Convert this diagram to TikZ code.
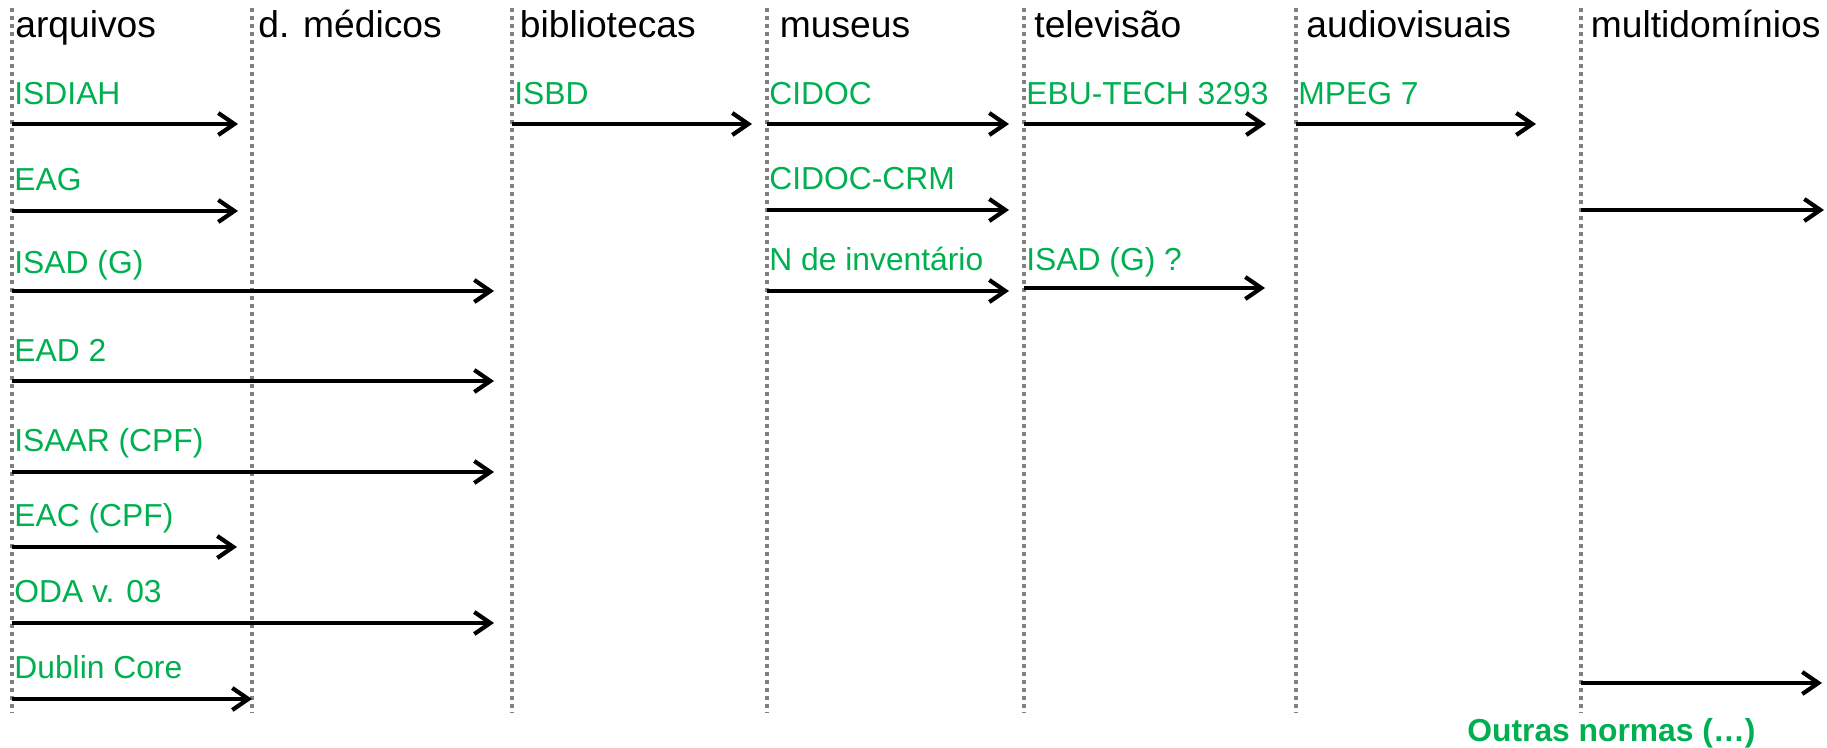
\documentclass[tikz,border=0pt]{standalone}
\usepackage{fontspec}
\setmainfont{Liberation Sans}
\usetikzlibrary{arrows.meta}
\definecolor{lblgreen}{RGB}{0,176,80}
\definecolor{sepgray}{RGB}{128,128,128}
\begin{document}
\begin{tikzpicture}[x=0.5pt,y=-0.5pt,
  sep/.style={draw=sepgray, line width=1.8pt, dash pattern=on 2pt off 2pt},
  arr/.style={draw=black, line width=2.1pt, -{Straight Barb[length=8pt,width=11pt]}},
  head/.style={anchor=base west, inner sep=0pt, font=\fontsize{18.6pt}{20pt}\selectfont},
  lbl/.style={anchor=base west, inner sep=0pt, text=lblgreen, font=\fontsize{15.9pt}{17pt}\selectfont},
  lblb/.style={lbl, font=\fontsize{15.9pt}{17pt}\selectfont\bfseries},
]
\useasboundingbox (0,0) rectangle (1827,748);

% column separators
\foreach \i/\x in {1/12,2/252,3/512,4/767,5/1024,6/1296,7/1581}{
  \coordinate (s\i t) at (\x,8);
  \coordinate (s\i b) at (\x,713);
  \draw[sep] (s\i t) -- (s\i b);
}

% headers
\node[head] (h1) at (15,38) {arquivos};
\node[head] (h2) at (258,38) {d. médicos};
\node[head] (h3) at (519.5,38) {bibliotecas};
\node[head] (h4) at (779.5,38) {museus};
\node[head] (h5) at (1034,38) {televisão};
\node[head] (h6) at (1306,38) {audiovisuais};
\node[head] (h7) at (1590.5,38) {multidomínios};

% arquivos column
\node[lbl] (isdiah) at (14,105) {ISDIAH};
\coordinate (isdiahS) at (12,124); \coordinate (isdiahE) at (238,124);
\draw[arr] (isdiahS) -- (isdiahE);

\node[lbl] (eag) at (14,191) {EAG};
\coordinate (eagS) at (12,211); \coordinate (eagE) at (238,211);
\draw[arr] (eagS) -- (eagE);

\node[lbl] (isadg) at (14,274) {ISAD (G)};
\coordinate (isadgS) at (12,291); \coordinate (isadgE) at (494,291);
\draw[arr] (isadgS) -- (isadgE);

\node[lbl] (ead) at (14,362) {EAD 2};
\coordinate (eadS) at (12,381); \coordinate (eadE) at (494,381);
\draw[arr] (eadS) -- (eadE);

\node[lbl] (isaar) at (14,452) {ISAAR (CPF)};
\coordinate (isaarS) at (12,472); \coordinate (isaarE) at (494,472);
\draw[arr] (isaarS) -- (isaarE);

\node[lbl] (eac) at (14,527) {EAC (CPF)};
\coordinate (eacS) at (12,547); \coordinate (eacE) at (237,547);
\draw[arr] (eacS) -- (eacE);

\node[lbl] (oda) at (14,603) {ODA v. 03};
\coordinate (odaS) at (12,623); \coordinate (odaE) at (494,623);
\draw[arr] (odaS) -- (odaE);

\node[lbl] (dublin) at (14,678) {Dublin Core};
\coordinate (dublinS) at (12,699); \coordinate (dublinE) at (252,699);
\draw[arr] (dublinS) -- (dublinE);

% bibliotecas
\node[lbl] (isbd) at (514,105) {ISBD};
\coordinate (isbdS) at (512,124); \coordinate (isbdE) at (752,124);
\draw[arr] (isbdS) -- (isbdE);

% museus
\node[lbl] (cidoc) at (769,105) {CIDOC};
\coordinate (cidocS) at (767,124); \coordinate (cidocE) at (1009,124);
\draw[arr] (cidocS) -- (cidocE);

\node[lbl] (cidoccrm) at (769,190) {CIDOC-CRM};
\coordinate (cidoccrmS) at (767,210); \coordinate (cidoccrmE) at (1009,210);
\draw[arr] (cidoccrmS) -- (cidoccrmE);

\node[lbl] (ninv) at (769,271) {N de inventário};
\coordinate (ninvS) at (767,291); \coordinate (ninvE) at (1009,291);
\draw[arr] (ninvS) -- (ninvE);

% televisao
\node[lbl] (ebu) at (1026,105) {EBU-TECH 3293};
\coordinate (ebuS) at (1024,124); \coordinate (ebuE) at (1266,124);
\draw[arr] (ebuS) -- (ebuE);

\node[lbl] (isadq) at (1026,271) {ISAD (G) ?};
\coordinate (isadqS) at (1024,288); \coordinate (isadqE) at (1265,288);
\draw[arr] (isadqS) -- (isadqE);

% audiovisuais
\node[lbl] (mpeg) at (1298,105) {MPEG 7};
\coordinate (mpegS) at (1296,124); \coordinate (mpegE) at (1536,124);
\draw[arr] (mpegS) -- (mpegE);

% multidominios
\coordinate (m1S) at (1581,210); \coordinate (m1E) at (1824,210);
\draw[arr] (m1S) -- (m1E);
\coordinate (m2S) at (1581,683); \coordinate (m2E) at (1822,683);
\draw[arr] (m2S) -- (m2E);

\node[lblb] (outras) at (1467,741) {Outras normas (…)};
\end{tikzpicture}
\end{document}
